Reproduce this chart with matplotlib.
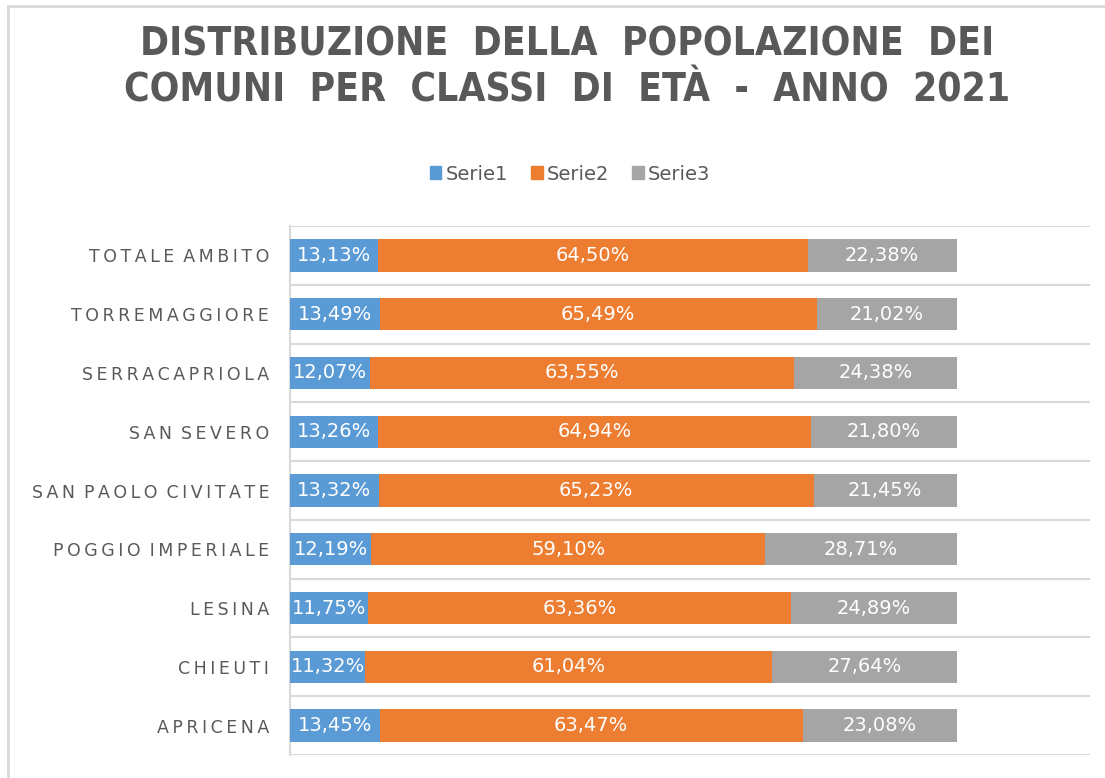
import matplotlib
matplotlib.use("Agg")
import matplotlib.pyplot as plt
from matplotlib.lines import Line2D
from matplotlib.patches import Patch
from matplotlib import font_manager as fm

categories = ["APRICENA", "CHIEUTI", "LESINA", "POGGIO IMPERIALE",
              "SAN PAOLO CIVITATE", "SAN SEVERO", "SERRACAPRIOLA",
              "TORREMAGGIORE", "TOTALE AMBITO"]
serie1 = [13.45, 11.32, 11.75, 12.19, 13.32, 13.26, 12.07, 13.49, 13.13]
serie2 = [63.47, 61.04, 63.36, 59.10, 65.23, 64.94, 63.55, 65.49, 64.50]
serie3 = [23.08, 27.64, 24.89, 28.71, 21.45, 21.80, 24.38, 21.02, 22.38]
series_names = ["Serie1", "Serie2", "Serie3"]
colors = ["#5B9BD5", "#ED7D31", "#A5A5A5"]
title_lines = ["DISTRIBUZIONE DELLA POPOLAZIONE DEI",
               "COMUNI PER CLASSI DI ETÀ - ANNO 2021"]

# look for a narrow bold font for the title
title_fp = None
cands = []
for f in fm.fontManager.ttflist:
    nm = (f.name + " " + f.fname).lower()
    if ("narrow" in nm or "condensed" in nm) and f.weight in ("bold", 700, "700"):
        cands.append(f)
if not cands:
    for f in fm.fontManager.ttflist:
        nm = (f.name + " " + f.fname).lower()
        if ("narrow" in nm or "condensed" in nm) and "bold" in f.fname.lower():
            cands.append(f)
cands = [c for c in cands if "oblique" not in c.fname.lower() and "italic" not in c.fname.lower()]
if cands:
    cands.sort(key=lambda f: 0 if "liberation" in f.fname.lower() else 1)
    title_fp = fm.FontProperties(fname=cands[0].fname, size=28)
    narrow = True
else:
    title_fp = fm.FontProperties(family="DejaVu Sans", weight="bold", size=22)
    narrow = False

W, H = 1105, 778
fig = plt.figure(figsize=(W / 100, H / 100), dpi=100)
fig.patch.set_facecolor("white")

def spaced(s, sep="\u2009", wsep="  "):
    return wsep.join(sep.join(w) for w in s.split(" "))

# outer chart border (partially visible)
fig.add_artist(Line2D([8 / W, 8 / W], [0, 1 - 6 / H], transform=fig.transFigure,
                      color="#d9d9d9", lw=2))
fig.add_artist(Line2D([8 / W, 1], [1 - 6 / H, 1 - 6 / H], transform=fig.transFigure,
                      color="#d9d9d9", lw=2))

ax_left, ax_right = 290, 1090
ax_top, ax_bot = 226, 755
ax = fig.add_axes([ax_left / W, 1 - ax_bot / H, (ax_right - ax_left) / W,
                   (ax_bot - ax_top) / H])

y = list(range(len(categories)))
left = [0.0] * len(categories)
for vals, col, name in zip([serie1, serie2, serie3], colors, series_names):
    ax.barh(y, [v / 100 for v in vals], left=left, height=0.55,
            color=col, label=name, zorder=3)
    for yi, v, l in zip(y, vals, left):
        ax.text(l + v / 200, yi, f"{v:.2f}%".replace(".", ","), ha="center",
                va="center", color="white", fontsize=14, zorder=4)
    left = [l + v / 100 for l, v in zip(left, vals)]

ax.set_xlim(0, 1.2)
ax.set_ylim(-0.5, len(categories) - 0.5)
ax.set_xticks([])
ax.set_yticks(y)
ax.set_yticklabels([spaced(c, "\u2009", " \u2009") for c in categories],
                   color="#595959", fontsize=12.5)
ax.tick_params(axis="y", length=0, pad=15)
for s in ["top", "right", "bottom"]:
    ax.spines[s].set_visible(False)
ax.spines["left"].set_color("#d9d9d9")
ax.spines["left"].set_linewidth(1.5)
for b in [i - 0.5 for i in range(len(categories) + 1)]:
    ax.axhline(b, color="#d9d9d9", lw=1.5, zorder=1)

for i, line in enumerate(title_lines):
    txt = line.replace(" ", "  ") if narrow else line
    fig.text(567 / W, 1 - (45 + 45 * i) / H, txt, ha="center", va="center",
             fontproperties=title_fp, color="#595959")

handles = [Patch(color=c, label=n) for c, n in zip(colors, series_names)]
fig.legend(handles=handles, loc="center", bbox_to_anchor=(570 / W, 1 - 174 / H),
           ncol=3, frameon=False, fontsize=14, handlelength=0.6, handleheight=0.6,
           handletextpad=0.2, columnspacing=1.2, labelcolor="#595959")

fig.savefig("out.png", dpi=100, facecolor="white")
